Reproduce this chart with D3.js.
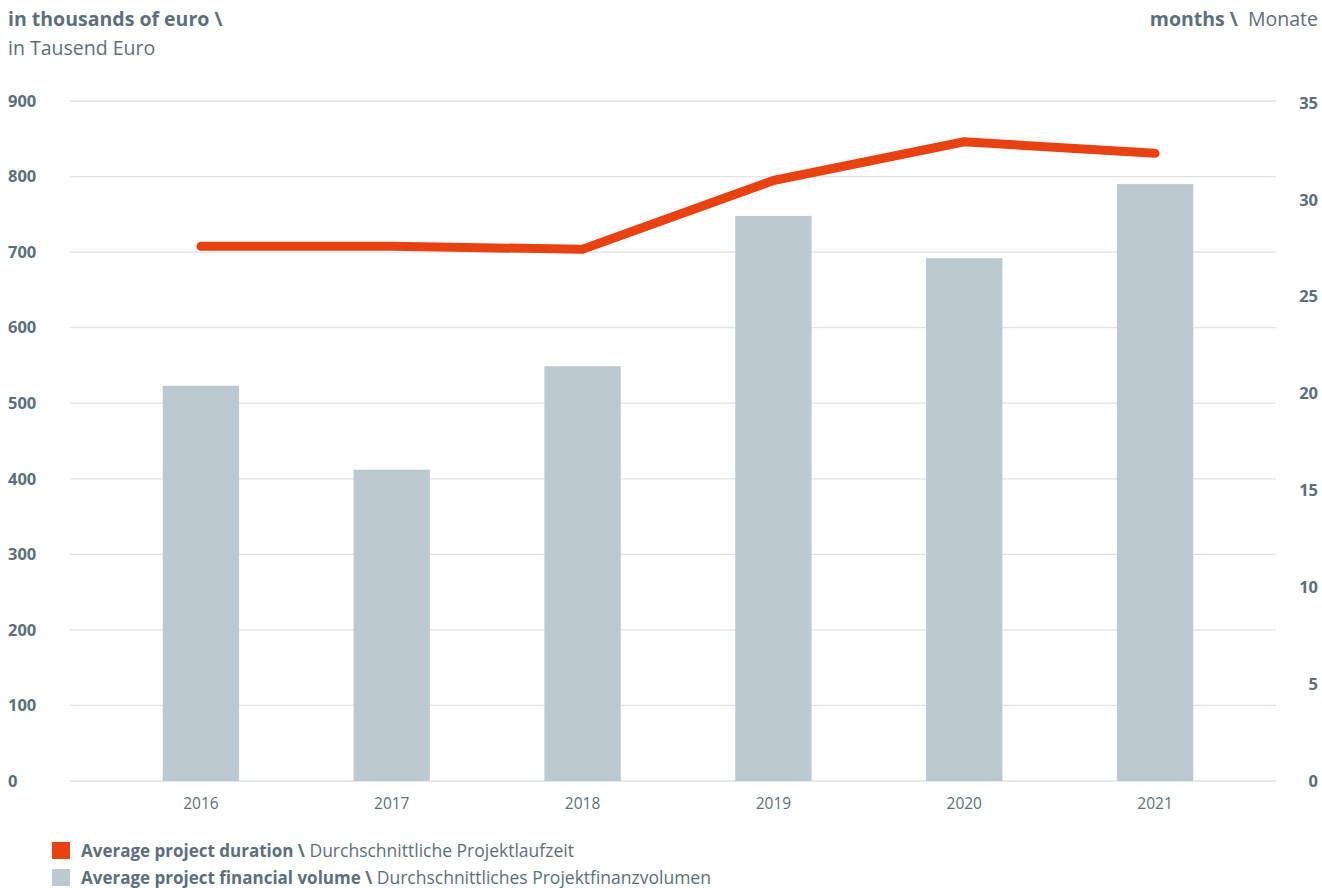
<!DOCTYPE html>
<html>
<head>
<meta charset="utf-8">
<script src="https://cdn.jsdelivr.net/npm/d3@7"></script>
<style>
  body { margin: 0; background: #fff; }
  svg { font-family: "Open Sans", "Noto Sans", sans-serif; }
  .grid line { stroke: #dde3e9; stroke-width: 1.3; }
  .tick-label { fill: #5c6f7b; font-size: 16.5px; font-weight: 700; }
  .year-label { fill: #5c6f7b; font-size: 15.5px; }
  .title { fill: #5c6f7b; font-size: 19.5px; }
  .legend-text { fill: #5c6f7b; font-size: 17px; }
</style>
</head>
<body>
<svg id="chart"></svg>
<script>
const SVGWidth = 1322, SVGHeight = 888;

// data
const years = ["2016", "2017", "2018", "2019", "2020", "2021"];
const volume = [523, 412, 549, 748, 692, 790];       // in thousands of euro
const duration = [27.6, 27.6, 27.45, 31.0, 33.0, 32.4]; // months
const leftTicks = [0, 100, 200, 300, 400, 500, 600, 700, 800, 900];
const rightTicks = [0, 5, 10, 15, 20, 25, 30, 35];

const barColor = "#bdc9d1";
const lineColor = "#e84212";

const SVG = d3.select("#chart")
  .attr("width", SVGWidth)
  .attr("height", SVGHeight);

const x = d3.scaleBand()
  .domain(years)
  .range([105.5, 1250.5])
  .paddingInner(0.6)
  .paddingOuter(0.3);

const yLeft = d3.scaleLinear().domain([0, 900]).range([781, 101]);
const yRight = d3.scaleLinear().domain([0, 35]).range([781, 103]);

// gridlines
const grid = SVG.append("g").attr("class", "grid");
grid.selectAll("line")
  .data(leftTicks)
  .enter()
  .append("line")
  .attr("x1", 70)
  .attr("x2", 1276)
  .attr("y1", d => yLeft(d))
  .attr("y2", d => yLeft(d));

// left axis labels
SVG.append("g").selectAll("text")
  .data(leftTicks)
  .enter()
  .append("text")
  .attr("class", "tick-label")
  .attr("x", 8)
  .attr("y", d => yLeft(d))
  .attr("dy", "0.35em")
  .text(d => d);

// right axis labels
SVG.append("g").selectAll("text")
  .data(rightTicks)
  .enter()
  .append("text")
  .attr("class", "tick-label")
  .attr("x", 1318)
  .attr("text-anchor", "end")
  .attr("y", d => yRight(d))
  .attr("dy", "0.35em")
  .text(d => d);

// bars
SVG.append("g").selectAll("rect")
  .data(years)
  .enter()
  .append("rect")
  .attr("x", d => x(d))
  .attr("width", x.bandwidth())
  .attr("y", (d, i) => yLeft(volume[i]))
  .attr("height", (d, i) => yLeft(0) - yLeft(volume[i]))
  .attr("fill", barColor);

// year labels
SVG.append("g").selectAll("text")
  .data(years)
  .enter()
  .append("text")
  .attr("class", "year-label")
  .attr("x", d => x(d) + x.bandwidth() / 2)
  .attr("y", 809)
  .attr("text-anchor", "middle")
  .text(d => d);

// duration line
const line = d3.line()
  .x((d, i) => x(years[i]) + x.bandwidth() / 2)
  .y(d => yRight(d));

SVG.append("path")
  .datum(duration)
  .attr("d", line)
  .attr("fill", "none")
  .attr("stroke", lineColor)
  .attr("stroke-width", 9)
  .attr("stroke-linecap", "round")
  .attr("stroke-linejoin", "round");

// titles
const t1 = SVG.append("text").attr("class", "title").attr("x", 8).attr("y", 26);
t1.append("tspan").attr("font-weight", 700).text("in thousands of euro \\");
SVG.append("text").attr("class", "title").attr("x", 8).attr("y", 55).text("in Tausend Euro");

const t2 = SVG.append("text").attr("class", "title").attr("x", 1318).attr("y", 26).attr("text-anchor", "end");
t2.append("tspan").attr("font-weight", 700).text("months \\");
t2.append("tspan").text("\u00a0 Monate");

// legend
const legendDetails = [
  [lineColor, "Average project duration \\", " Durchschnittliche Projektlaufzeit"],
  [barColor, "Average project financial volume \\", " Durchschnittliches Projektfinanzvolumen"]
];
const legend = SVG.append("g").attr("class", "legend");
let ly = 851;
legendDetails.forEach(entry => {
  legend.append("rect")
    .attr("x", 52)
    .attr("y", ly - 9)
    .attr("width", 18)
    .attr("height", 17)
    .attr("fill", entry[0]);
  const t = legend.append("text")
    .attr("class", "legend-text")
    .attr("x", 81)
    .attr("y", ly)
    .attr("dy", "0.35em");
  t.append("tspan").attr("font-weight", 700).text(entry[1]);
  t.append("tspan").attr("font-size", "17.5px").text(entry[2]);
  ly += 27;
});
</script>
</body>
</html>
